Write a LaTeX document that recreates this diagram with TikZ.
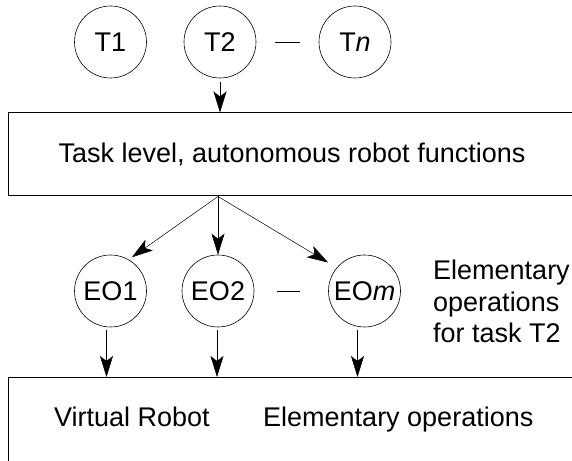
\documentclass[tikz,border=0pt]{standalone}
\usepackage{fontspec}
\setmainfont{Liberation Sans}
\usetikzlibrary{arrows.meta}
\tikzset{
  task/.style={circle, draw, line width=0.6pt, minimum size=72pt, inner sep=1pt},
  layer/.style={rectangle, draw, line width=1pt, minimum width=568pt},
  arr/.style={-{Stealth[length=21pt,width=13pt,inset=5pt]}, line width=0.5pt},
}

\begin{document}
\begin{tikzpicture}[x=1pt,y=1pt,font=\fontsize{27}{31.5}\selectfont]
\useasboundingbox (0,0) rectangle (572,460);
% Tasks
\node[task] (T1) at (110.5,418) {T1};
\node[task] (T2) at (220,418) {T2};
\node[task] (Tn) at (355,418) {T\textit{n}};
\draw[line width=0.6pt, shorten <=19pt, shorten >=19pt] (T2) -- (Tn);
% Task level
\node[layer, minimum height=83pt] (task) at (292,305.5) {Task level, autonomous robot functions};
\draw[arr, shorten <=4pt] (T2) -- (T2 |- task.north);
% Elementary operations for T2
\node[task] (EO1) at (110.5,169) {EO1};
\node[task] (EO2) at (218,169) {EO2};
\node[task] (EOm) at (364.5,169) {EO\textit{m}};
\draw[line width=0.6pt, shorten <=23pt, shorten >=28pt] (EO2) -- (EOm);
\coordinate (fork) at (EO2 |- task.south);
\draw[arr, shorten >=4pt] (fork) -- (EO1.60);
\draw[arr] (fork) -- (EO2);
\draw[arr, shorten >=10pt] (fork) -- (EOm.140);
\node[anchor=north west, align=left, inner sep=0pt] (note) at (433,200) {Elementary\\operations\\for task T2};
% Virtual robot
\node[layer, minimum height=100pt, anchor=north] (robot) at (292,83) {};
\node[anchor=base west, inner sep=0pt] (vr) at (54,34) {Virtual Robot};
\node[anchor=base west, inner sep=0pt] (eo) at (263,34) {Elementary operations};
\foreach \n/\dx in {EO1/-4, EO2/-1, EOm/-7}
  \draw[arr, shorten <=3pt] ([xshift=\dx pt]\n.south) -- ([xshift=\dx pt]\n.south |- robot.north);
\end{tikzpicture}
\end{document}
